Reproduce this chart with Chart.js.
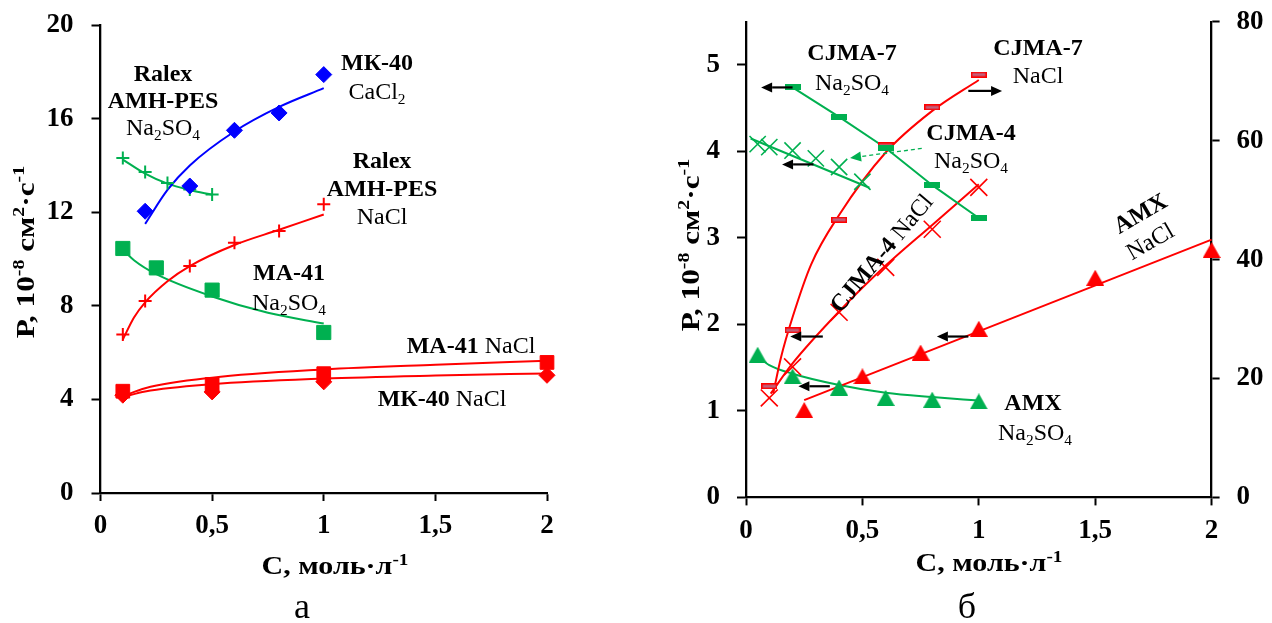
<!DOCTYPE html>
<html lang="ru">
<head>
<meta charset="UTF-8">
<title>P(C)</title>
<style>
  html, body { margin: 0; padding: 0; background: #fff; }
  #wrap { position: relative; width: 1272px; height: 623px; }
  canvas { position: absolute; top: 0; }
  #chart-a { left: 0; }
  #chart-b { left: 636px; }
</style>
</head>
<body>
<div id="wrap">
  <canvas id="chart-a" width="636" height="623"></canvas>
  <canvas id="chart-b" width="636" height="623"></canvas>
</div>
<script src="https://cdn.jsdelivr.net/npm/chart.js@4.4.1/dist/chart.umd.min.js"></script>
<script>
// ===== рис. а : P, 10^-8 см2/с  от C, моль/л =====
// МК-40 CaCl2
const mk40CaCl2C = [0.2, 0.4, 0.6, 0.8, 1.0];
const mk40CaCl2P = [12.04, 13.12, 15.5, 16.24, 17.88];
const mk40CaCl2FitC = [0.2, 0.3, 0.4, 0.6, 0.8, 1.0];
const mk40CaCl2FitP = [11.5, 12.95, 14.0, 15.45, 16.5, 17.3];
// Ralex AMH-PES Na2SO4
const ralexNa2SO4C = [0.1, 0.2, 0.3, 0.4, 0.5];
const ralexNa2SO4P = [14.32, 13.72, 13.25, 12.97, 12.76];
const ralexNa2SO4FitP = [14.25, 13.65, 13.22, 12.95, 12.75];
// Ralex AMH-PES NaCl
const ralexNaClC = [0.1, 0.2, 0.4, 0.6, 0.8, 1.0];
const ralexNaClP = [6.77, 8.2, 9.7, 10.69, 11.2, 12.34];
const ralexNaClFitC = [0.1, 0.15, 0.2, 0.3, 0.4, 0.6, 0.8, 1.0];
const ralexNaClFitP = [6.56, 7.5, 8.15, 9.05, 9.7, 10.6, 11.25, 11.9];
// МА-41 Na2SO4
const ma41Na2SO4C = [0.1, 0.25, 0.5, 1.0];
const ma41Na2SO4P = [10.45, 9.62, 8.67, 6.86];
const ma41Na2SO4FitC = [0.1, 0.15, 0.25, 0.5, 0.75, 1.0];
const ma41Na2SO4FitP = [10.4, 9.95, 9.35, 8.4, 7.7, 7.24];
// МА-41 NaCl и МК-40 NaCl
const naClC = [0.1, 0.5, 1.0, 2.0];
const ma41NaClP = [4.35, 4.64, 5.1, 5.58];
const mk40NaClP = [4.18, 4.32, 4.75, 5.03];
const naClFitC = [0.1, 0.2, 0.5, 1.0, 1.5, 2.0];
const ma41NaClFitP = [4.14, 4.48, 4.93, 5.28, 5.48, 5.65];
const mk40NaClFitP = [4.1, 4.34, 4.65, 4.89, 5.02, 5.11];

// ===== рис. б =====
// CJMA-7 Na2SO4 (левая ось)
const cjma7Na2SO4C = [0.2, 0.4, 0.6, 0.8, 1.0];
const cjma7Na2SO4P = [4.74, 4.40, 4.04, 3.61, 3.23];
// CJMA-4 Na2SO4 (левая ось)
const cjma4Na2SO4C = [0.05, 0.1, 0.2, 0.3, 0.4, 0.5];
const cjma4Na2SO4P = [4.085, 4.05, 4.01, 3.92, 3.82, 3.65];
const cjma4Na2SO4FitC = [0.02, 0.53];
const cjma4Na2SO4FitP = [4.15, 3.58];
// CJMA-7 NaCl (правая ось)
const cjma7NaClC = [0.1, 0.2, 0.4, 0.6, 0.8, 1.0];
const cjma7NaClP = [18.7, 28.1, 46.7, 59.2, 65.6, 71.1];
const cjma7NaClFitC = [0.117, 0.15, 0.2, 0.28, 0.4, 0.6, 0.8, 1.0];
const cjma7NaClFitP = [17.5, 23.5, 30.3, 39.2, 47.5, 58, 65, 70.2];
// CJMA-4 NaCl (левая ось)
const cjma4NaClC = [0.1, 0.2, 0.4, 0.6, 0.8, 1.0];
const cjma4NaClP = [1.15, 1.51, 2.14, 2.66, 3.1, 3.585];
const cjma4NaClFitC = [0.106, 0.2, 0.4, 0.6, 0.8, 1.0];
const cjma4NaClFitP = [1.2, 1.55, 2.15, 2.68, 3.15, 3.62];
// AMX NaCl (левая ось)
const amxNaClC = [0.25, 0.5, 0.75, 1.0, 1.5, 2.0];
const amxNaClP = [1.01, 1.40, 1.675, 1.95, 2.54, 2.86];
const amxNaClFitC = [0.25, 2.0];
const amxNaClFitP = [1.125, 2.98];
// AMX Na2SO4 (левая ось)
const amxNa2SO4C = [0.05, 0.2, 0.4, 0.6, 0.8, 1.0];
const amxNa2SO4P = [1.65, 1.40, 1.27, 1.15, 1.13, 1.11];
const amxNa2SO4FitC = [0.05, 0.1, 0.2, 0.4, 0.6, 0.8, 1.0];
const amxNa2SO4FitP = [1.63, 1.53, 1.43, 1.30, 1.21, 1.16, 1.12];

// стрелки-указатели осей на рис. б: [C1, P1, C2, P2] в единицах левой оси
const axisArrowsB = [
  [0.2, 4.74, 0.065, 4.74],
  [0.29, 3.85, 0.155, 3.85],
  [0.955, 4.70, 1.10, 4.70],
  [0.33, 1.86, 0.19, 1.86],
  [0.36, 1.285, 0.225, 1.285],
  [0.955, 1.86, 0.82, 1.86]
];
const labelArrowB = [0.755, 4.035, 0.447, 3.925];

// ===== оформление =====
const SERIF = '"Liberation Serif", "Times New Roman", serif';
const RED = '#ff0000', GREEN = '#00b050', BLUE = '#0000ff';
const TICK_FONT = { family: SERIF, size: 27, weight: 'bold' };

const pts = (xs, ys) => xs.map((x, i) => ({ x: x, y: ys[i] }));

function markers(xs, ys, style, color, r, extra) {
  return Object.assign({
    data: pts(xs, ys), showLine: false, pointStyle: style,
    pointRadius: r, pointHoverRadius: r, pointBorderWidth: 1,
    backgroundColor: color, borderColor: color, clip: false, order: 0
  }, extra);
}
function curve(xs, ys, color, extra) {
  return Object.assign({
    data: pts(xs, ys), showLine: true, pointRadius: 0, pointHoverRadius: 0,
    borderColor: color, borderWidth: 2, cubicInterpolationMode: 'monotone',
    fill: false, clip: false, order: 1
  }, extra);
}

// маркеры, которых нет в Chart.js
function triMarker(color) {
  const c = document.createElement('canvas');
  c.width = 18; c.height = 16;
  const g = c.getContext('2d');
  g.fillStyle = color;
  g.beginPath(); g.moveTo(9, 0); g.lineTo(18, 16); g.lineTo(0, 16); g.closePath(); g.fill();
  return c;
}
function barMarker(outer, inner) {
  const c = document.createElement('canvas');
  c.width = 16; c.height = 6;
  const g = c.getContext('2d');
  g.fillStyle = outer; g.fillRect(0, 0, 16, 6);
  if (inner) { g.fillStyle = inner; g.fillRect(1.5, 1.5, 13, 3); }
  return c;
}

function axis(o) {
  return {
    type: 'linear', position: o.position, min: o.min, max: o.max,
    afterBuildTicks: s => { if (o.keep !== undefined) s.ticks = s.ticks.filter(t => t.value <= o.keep + 1e-9); },
    afterFit: s => {
      if (o.width) s.width = o.width;
      if (o.height) s.height = o.height;
      s.paddingTop = s.paddingBottom = s.paddingLeft = s.paddingRight = 0;
    },
    ticks: {
      stepSize: o.step, font: TICK_FONT, color: '#000', padding: o.pad,
      autoSkip: false, maxRotation: 0, callback: v => String(v).replace('.', ',')
    },
    grid: { drawOnChartArea: false, drawTicks: true, tickLength: o.tick, tickWidth: 2, tickColor: '#000' },
    border: { display: true, color: '#000', width: 2.3 }
  };
}

// текст с нижними/верхними индексами: части [текст, стиль], стиль: 'b' жирный, '_' индекс, '^' степень
function drawRich(ctx, x, y, parts, size, rot, stretch) {
  const items = parts.map(([t, st = '']) => {
    const small = st.includes('_') || st.includes('^');
    const fs = small ? size * 0.64 : size;
    const font = (st.includes('b') ? 'bold ' : '') + fs + 'px ' + SERIF;
    ctx.font = font;
    const dy = st.includes('_') ? size * 0.2 : st.includes('^') ? -size * 0.36 : 0;
    return { t: t, font: font, dy: dy, w: ctx.measureText(t).width };
  });
  const total = items.reduce((s, it) => s + it.w, 0);
  ctx.save();
  ctx.translate(x, y);
  if (rot) ctx.rotate(rot * Math.PI / 180);
  if (stretch) ctx.scale(stretch, 1);
  ctx.fillStyle = '#000';
  ctx.textBaseline = 'alphabetic';
  let cx = -total / 2;
  for (const it of items) {
    ctx.font = it.font;
    ctx.fillText(it.t, cx, size * 0.33 + it.dy);
    cx += it.w;
  }
  ctx.restore();
}

function drawArrow(ctx, x1, y1, x2, y2, color, dashed) {
  const a = Math.atan2(y2 - y1, x2 - x1), c = Math.cos(a), s = Math.sin(a);
  const head = 11, half = 5;
  ctx.save();
  ctx.strokeStyle = color; ctx.fillStyle = color;
  ctx.lineWidth = dashed ? 1.3 : 2.2;
  if (dashed) ctx.setLineDash([4, 3]);
  ctx.beginPath();
  ctx.moveTo(x1, y1);
  ctx.lineTo(x2 - head * c, y2 - head * s);
  ctx.stroke();
  ctx.setLineDash([]);
  ctx.beginPath();
  ctx.moveTo(x2, y2);
  ctx.lineTo(x2 - head * c + half * s, y2 - head * s - half * c);
  ctx.lineTo(x2 - head * c - half * s, y2 - head * s + half * c);
  ctx.closePath();
  ctx.fill();
  ctx.restore();
}

const yTitle = [['Р, 10', 'b'], ['-8', 'b^'], [' см', 'b'], ['2', 'b^'], ['·с', 'b'], ['-1', 'b^']];
const xTitle = [['С, моль·л', 'b'], ['-1', 'b^']];
const na2so4 = [['Na'], ['2', '_'], ['SO'], ['4', '_']];

// подписи рис. а (координаты на холсте): x, y, текст, кегль, поворот, растяжение
const textA = [
  [377, 62, [['МК-40', 'b']], 24],
  [377, 91, [['CaCl'], ['2', '_']], 24],
  [163, 73, [['Ralex', 'b']], 24],
  [163, 100, [['AMH-PES', 'b']], 24],
  [163, 127, na2so4, 24],
  [382, 160, [['Ralex', 'b']], 24],
  [382, 188, [['AMH-PES', 'b']], 24],
  [382, 216, [['NaCl']], 24],
  [289, 272, [['МА-41', 'b']], 24],
  [289, 302, na2so4, 24],
  [471, 345, [['МА-41', 'b'], [' NaCl']], 24],
  [442, 398, [['МК-40', 'b'], [' NaCl']], 24],
  [25, 252, yTitle, 26, -90, 1.2],
  [335, 566, xTitle, 25, 0, 1.2],
  [302, 606, [['а']], 36]
];
// подписи рис. б (координаты страницы, сдвиг 636)
const textB = [
  [852, 52, [['CJMA-7', 'b']], 24],
  [852, 82, na2so4, 24],
  [1038, 47, [['CJMA-7', 'b']], 24],
  [1038, 75, [['NaCl']], 24],
  [971, 132, [['CJMA-4', 'b']], 24],
  [971, 160, na2so4, 24],
  [881, 253, [['CJMA-4', 'b'], [' NaCl']], 24, -50],
  [1140, 213, [['AMX', 'b']], 24, -30],
  [1150, 241, [['NaCl']], 24, -30],
  [1033, 402, [['AMX', 'b']], 24],
  [1035, 432, na2so4, 24],
  [690, 245, yTitle, 26, -90, 1.2],
  [989, 563, xTitle, 25, 0, 1.2],
  [967, 606, [['б']], 36]
];

function textPlugin(list, dx) {
  return {
    id: 'texts',
    afterDraw(chart) {
      const ctx = chart.ctx;
      for (const [x, y, parts, size, rot, stretch] of list) drawRich(ctx, x - dx, y, parts, size, rot, stretch);
    }
  };
}

const common = {
  responsive: false, animation: false, devicePixelRatio: 1, events: [],
  plugins: { legend: { display: false }, tooltip: { enabled: false } }
};

// ===== рис. а =====
new Chart(document.getElementById('chart-a'), {
  type: 'scatter',
  data: {
    datasets: [
      markers(mk40CaCl2C, mk40CaCl2P, 'rectRot', BLUE, 8),
      markers(ralexNa2SO4C, ralexNa2SO4P, 'cross', GREEN, 6.5, { pointBorderWidth: 2 }),
      markers(ralexNaClC, ralexNaClP, 'cross', RED, 6.5, { pointBorderWidth: 2 }),
      markers(ma41Na2SO4C, ma41Na2SO4P, 'rect', GREEN, 10),
      markers(naClC, ma41NaClP, 'rect', RED, 9.7),
      markers(naClC, mk40NaClP, 'rectRot', RED, 8),
      curve(mk40CaCl2FitC, mk40CaCl2FitP, BLUE),
      curve(ralexNa2SO4C, ralexNa2SO4FitP, GREEN),
      curve(ralexNaClFitC, ralexNaClFitP, RED),
      curve(ma41Na2SO4FitC, ma41Na2SO4FitP, GREEN),
      curve(naClFitC, ma41NaClFitP, RED),
      curve(naClFitC, mk40NaClFitP, RED)
    ]
  },
  options: Object.assign({}, common, {
    layout: { padding: { left: 0, right: 89, top: 25, bottom: 0 } },
    scales: {
      x: axis({ position: 'bottom', min: 0, max: 2, step: 0.5, tick: 8, pad: 9, height: 130 }),
      y: axis({ position: 'left', min: 0, max: 20, step: 4, tick: 9, pad: 18, width: 100.5 })
    }
  }),
  plugins: [textPlugin(textA, 0)]
});

// ===== рис. б =====
const arrowPlugin = {
  id: 'arrows',
  afterDatasetsDraw(chart) {
    const x = chart.scales.x, y = chart.scales.y, ctx = chart.ctx;
    for (const [c1, p1, c2, p2] of axisArrowsB) {
      drawArrow(ctx, x.getPixelForValue(c1), y.getPixelForValue(p1), x.getPixelForValue(c2), y.getPixelForValue(p2), '#000', false);
    }
    const [c1, p1, c2, p2] = labelArrowB;
    drawArrow(ctx, x.getPixelForValue(c1), y.getPixelForValue(p1), x.getPixelForValue(c2), y.getPixelForValue(p2), GREEN, true);
  }
};

new Chart(document.getElementById('chart-b'), {
  type: 'scatter',
  data: {
    datasets: [
      markers(cjma7Na2SO4C, cjma7Na2SO4P, barMarker(GREEN), GREEN, 8, { yAxisID: 'y' }),
      markers(cjma4Na2SO4C, cjma4Na2SO4P, 'crossRot', GREEN, 11.5, { pointBorderWidth: 1.6, yAxisID: 'y' }),
      markers(cjma7NaClC, cjma7NaClP, barMarker(RED, '#c0607c'), RED, 8, { yAxisID: 'y1' }),
      markers(cjma4NaClC, cjma4NaClP, 'crossRot', RED, 12, { pointBorderWidth: 1.6, yAxisID: 'y' }),
      markers(amxNaClC, amxNaClP, triMarker(RED), RED, 9, { yAxisID: 'y' }),
      markers(amxNa2SO4C, amxNa2SO4P, triMarker(GREEN), GREEN, 9, { yAxisID: 'y' }),
      curve(cjma7Na2SO4C, cjma7Na2SO4P, GREEN, { cubicInterpolationMode: 'default', tension: 0, yAxisID: 'y' }),
      curve(cjma4Na2SO4FitC, cjma4Na2SO4FitP, GREEN, { cubicInterpolationMode: 'default', tension: 0, yAxisID: 'y' }),
      curve(cjma7NaClFitC, cjma7NaClFitP, RED, { yAxisID: 'y1' }),
      curve(cjma4NaClFitC, cjma4NaClFitP, RED, { yAxisID: 'y' }),
      curve(amxNaClFitC, amxNaClFitP, RED, { cubicInterpolationMode: 'default', tension: 0, yAxisID: 'y' }),
      curve(amxNa2SO4FitC, amxNa2SO4FitP, GREEN, { yAxisID: 'y' })
    ]
  },
  options: Object.assign({}, common, {
    layout: { padding: { left: 0, right: 0, top: 21.7, bottom: 0 } },
    scales: {
      x: axis({ position: 'bottom', min: 0, max: 2, step: 0.5, tick: 8, pad: 9, height: 125.6 }),
      y: axis({ position: 'left', min: 0, max: 5.5, step: 1, keep: 5, tick: 9, pad: 17, width: 110 }),
      y1: axis({ position: 'right', min: 0, max: 80, step: 20, tick: 8, pad: 17, width: 60.4 })
    }
  }),
  plugins: [arrowPlugin, textPlugin(textB, 636)]
});
</script>
</body>
</html>
